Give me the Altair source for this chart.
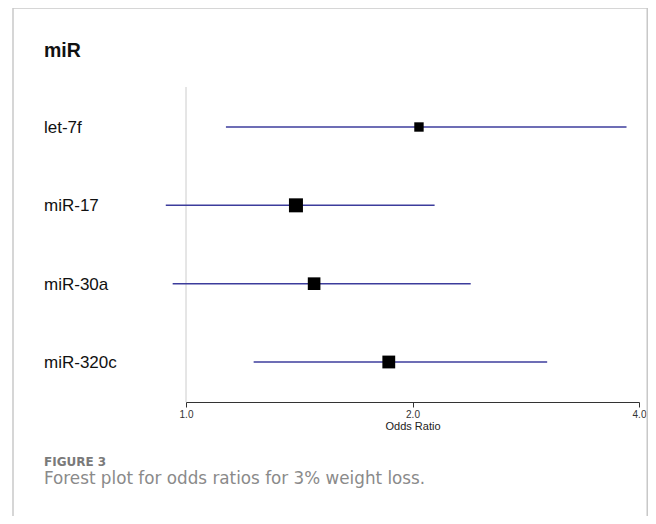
import altair as alt
import pandas as pd
import numpy as np

# ---- data ----
names = ["let-7f", "miR-17", "miR-30a", "miR-320c"]
odds_ratio = [2.04, 1.40, 1.48, 1.86]
ci_lower = [1.13, 0.94, 0.96, 1.23]
ci_upper = [3.85, 2.14, 2.39, 3.02]
axis_ticks = [1.0, 2.0, 4.0]

df = pd.DataFrame({
    "name": names,
    "or": odds_ratio,
    "lo": ci_lower,
    "hi": ci_upper,
})
# box area proportional to precision (1/SE)^2, SE from CI width on log scale
df["precision"] = 1.0 / np.log(df["hi"] / df["lo"]) ** 2

W, H = 640, 394
PAD_BOTTOM = 114
FRAME = "#c8c8c8"

xscale = alt.Scale(type="log", base=2, domain=[1, 4], range=[178, 631])
yscale = alt.Scale(type="point", domain=names, range=[119, 354], padding=0)

base = alt.Chart(df)

xaxis = alt.Axis(
    values=axis_ticks, format=".1f", grid=False, labelFlush=False,
    labelFontSize=10, labelColor="#333333", labelFont="Liberation Sans",
    labelPadding=2, tickSize=5, tickColor="#333333", domainColor="#333333",
    title="Odds Ratio", titleFontSize=11, titleFontWeight="normal",
    titleFont="Liberation Sans", titleColor="#222222", titlePadding=1,
)

one = alt.Data(values=[{"a": 1}])

# frame
frame_left = alt.Chart(one).mark_rule(color=FRAME, strokeWidth=1.5).encode(
    x=alt.value(5), y=alt.value(0), y2=alt.value(H + PAD_BOTTOM))
frame_right = alt.Chart(one).mark_rule(color=FRAME, strokeWidth=2).encode(
    x=alt.value(W - 0.5), y=alt.value(0), y2=alt.value(H + PAD_BOTTOM))
frame_top = alt.Chart(one).mark_rule(color=FRAME, strokeWidth=1.5).encode(
    x=alt.value(5), x2=alt.value(W), y=alt.value(0))

# reference line at OR = 1
ref = alt.Chart(alt.Data(values=[{"v": 1.0}])).mark_rule(
    color="#cccccc", strokeWidth=1).encode(
    x=alt.X("v:Q", scale=xscale, axis=xaxis),
    y=alt.value(79), y2=alt.value(H))

ci = base.mark_rule(color="#3c3c9c", strokeWidth=1.5).encode(
    x=alt.X("lo:Q", scale=xscale, axis=xaxis),
    x2="hi:Q",
    y=alt.Y("name:N", scale=yscale, axis=None),
)

pts = base.mark_square(color="black", filled=True, opacity=1).encode(
    x=alt.X("or:Q", scale=xscale, axis=xaxis),
    y=alt.Y("name:N", scale=yscale, axis=None),
    size=alt.Size("precision:Q", scale=alt.Scale(zero=True, range=[0, 196]), legend=None),
)

labels = base.mark_text(align="left", baseline="middle", fontSize=17,
                        font="Liberation Sans", color="#111111", dy=1).encode(
    x=alt.value(36),
    y=alt.Y("name:N", scale=yscale, axis=None),
    text="name:N",
)

header = alt.Chart(one).mark_text(
    text="miR", align="left", baseline="alphabetic", fontSize=19.5,
    fontWeight="bold", font="Liberation Sans", color="#111111").encode(
    x=alt.value(36), y=alt.value(49))

fig_label = alt.Chart(one).mark_text(
    text="FIGURE 3", align="left", baseline="alphabetic", fontSize=12,
    fontWeight="bold", font="DejaVu Sans", color="#7a7a7a").encode(
    x=alt.value(36), y=alt.value(458))

caption = alt.Chart(one).mark_text(
    text="Forest plot for odds ratios for 3% weight loss.", align="left",
    baseline="alphabetic", fontSize=16.8, font="DejaVu Sans", color="#8a8a8a").encode(
    x=alt.value(36), y=alt.value(476))

chart = alt.layer(
    frame_left, frame_right, frame_top, ref, ci, pts, labels, header, fig_label, caption
).properties(
    width=W, height=H,
    background="white",
    autosize=alt.AutoSizeParams(type="none"),
    padding={"left": 0, "top": 0, "right": 0, "bottom": PAD_BOTTOM},
).configure_view(stroke="transparent")

chart.save("out.html", embed_options={"renderer": "svg", "actions": False})
